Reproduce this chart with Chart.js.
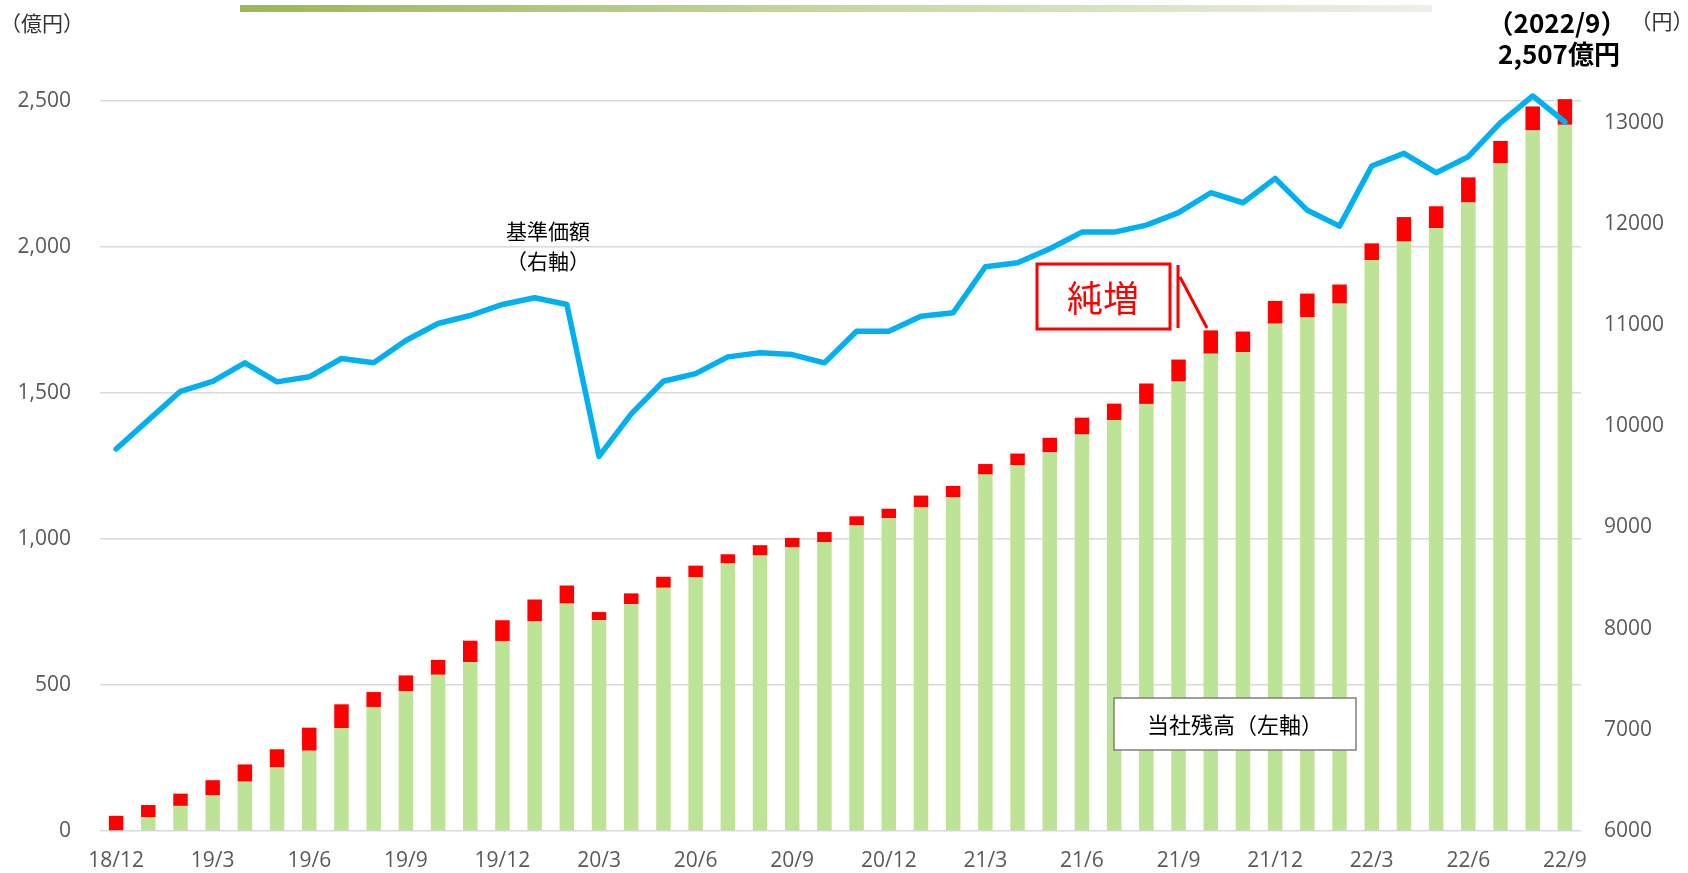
<!DOCTYPE html>
<html>
<head>
<meta charset="utf-8">
<script src="https://cdn.jsdelivr.net/npm/chart.js@4.4.0/dist/chart.umd.min.js"></script>
<style>
  html, body { margin: 0; padding: 0; background: #fff; }
  #wrap { width: 1688px; height: 873px; }
</style>
</head>
<body>
<div id="wrap"><canvas id="balanceChart" width="1688" height="873"></canvas></div>
<script>
// 月次 18/12 〜 22/9
const months = [
  '18/12',
  '19/1', '19/2', '19/3', '19/4', '19/5', '19/6', '19/7', '19/8', '19/9', '19/10', '19/11', '19/12',
  '20/1', '20/2', '20/3', '20/4', '20/5', '20/6', '20/7', '20/8', '20/9', '20/10', '20/11', '20/12',
  '21/1', '21/2', '21/3', '21/4', '21/5', '21/6', '21/7', '21/8', '21/9', '21/10', '21/11', '21/12',
  '22/1', '22/2', '22/3', '22/4', '22/5', '22/6', '22/7', '22/8', '22/9'
];

// 当社残高 (億円) : 緑 = 既存分, 赤 = 純増
const baseBalance = [
  0, 47, 86, 122, 169, 218, 275, 352, 425, 479, 535, 578, 651,
  719, 779, 722, 777, 833, 870, 918, 944, 973, 989, 1047, 1071,
  1110, 1144, 1221, 1253, 1297, 1358, 1408, 1463, 1540, 1635, 1640, 1738,
  1760, 1807, 1955, 2019, 2065, 2153, 2288, 2400, 2419
];
const netIncrease = [
  52, 42, 42, 52, 59, 62, 79, 82, 51, 54, 51, 74, 71,
  74, 62, 28, 37, 38, 39, 30, 35, 31, 35, 31, 33,
  39, 38, 36, 40, 50, 58, 56, 70, 75, 80, 71, 78,
  81, 65, 58, 84, 75, 86, 76, 82, 88
];

// 基準価額 (円, 右軸)
const navPrice = [
  9775, 10060, 10345, 10444, 10626, 10438, 10488, 10669, 10626, 10847, 11015, 11094, 11203,
  11269, 11203, 9702, 10122, 10444, 10520, 10685, 10725, 10708, 10626, 10939, 10939,
  11087, 11121, 11576, 11615, 11754, 11918, 11918, 11987, 12110, 12307, 12208, 12449,
  12133, 11977, 12571, 12696, 12505, 12663, 13000, 13263, 13006
];

const leftTicks = [0, 500, 1000, 1500, 2000, 2500];
const rightTicks = [6000, 7000, 8000, 9000, 10000, 11000, 12000, 13000];

const tickFont = { family: '"Open Sans", "Noto Sans", sans-serif', size: 21 };
const jpFont = '"Noto Sans CJK JP", "Noto Sans", sans-serif';

// 注記・装飾
const annotations = {
  id: 'annotations',
  afterDraw(chart) {
    const ctx = chart.ctx;
    ctx.save();

    // 上部のグラデーション帯
    const g = ctx.createLinearGradient(240, 0, 1432, 0);
    g.addColorStop(0, '#98b954');
    g.addColorStop(0.5, '#c4d89f');
    g.addColorStop(1, '#eeefe8');
    ctx.fillStyle = g;
    ctx.fillRect(240, 5, 1192, 7);

    ctx.textAlign = 'center';
    ctx.textBaseline = 'middle';

    ctx.fillStyle = '#333';
    ctx.font = '21px ' + jpFont;
    ctx.fillText('（億円）', 42, 23);
    ctx.fillText('（円）', 1662, 21);

    ctx.fillStyle = '#000';
    ctx.font = 'bold 26px ' + jpFont;
    ctx.fillText('（2022/9）', 1557, 23);
    ctx.fillText('2,507億円', 1559, 54);

    ctx.font = '21px ' + jpFont;
    ctx.fillText('基準価額', 548, 231);
    ctx.fillText('（右軸）', 548, 261);

    // 純増 callout
    ctx.fillStyle = '#fff';
    ctx.fillRect(1037, 264, 133, 65);
    ctx.strokeStyle = '#ff0000';
    ctx.lineWidth = 3;
    ctx.strokeRect(1037, 264, 133, 65);
    ctx.beginPath();
    ctx.moveTo(1178, 265);
    ctx.lineTo(1178, 328);
    ctx.moveTo(1180, 277);
    ctx.lineTo(1207, 328);
    ctx.stroke();
    ctx.fillStyle = '#ff0000';
    ctx.font = '36px ' + jpFont;
    ctx.fillText('純増', 1103, 298);

    // 当社残高 label
    ctx.fillStyle = '#fff';
    ctx.fillRect(1114, 698, 242, 52);
    ctx.strokeStyle = '#7f7f7f';
    ctx.lineWidth = 1.5;
    ctx.strokeRect(1114, 698, 242, 52);
    ctx.fillStyle = '#000';
    ctx.font = '22px ' + jpFont;
    ctx.fillText('当社残高（左軸）', 1235, 725);

    ctx.restore();
  }
};

new Chart(document.getElementById('balanceChart').getContext('2d'), {
  type: 'bar',
  plugins: [annotations],
  data: {
    labels: months,
    datasets: [
      {
        type: 'line',
        label: '基準価額',
        data: navPrice,
        yAxisID: 'y1',
        borderColor: '#00b0f0',
        borderWidth: 5.5,
        pointRadius: 0,
        tension: 0,
        borderJoinStyle: 'round',
        borderCapStyle: 'round',
        order: 0
      },
      {
        label: '当社残高',
        data: baseBalance,
        backgroundColor: '#bde397',
        stack: 'bal',
        yAxisID: 'y',
        categoryPercentage: 1,
        barPercentage: 0.45,
        order: 1
      },
      {
        label: '純増',
        data: netIncrease,
        backgroundColor: '#ff0000',
        stack: 'bal',
        yAxisID: 'y',
        categoryPercentage: 1,
        barPercentage: 0.45,
        order: 1
      }
    ]
  },
  options: {
    responsive: false,
    animation: false,
    layout: { padding: { top: 72, left: 0, right: 0, bottom: 0 } },
    plugins: { legend: { display: false }, tooltip: { enabled: false } },
    scales: {
      x: {
        stacked: true,
        grid: { display: false, drawTicks: false },
        border: { display: false },
        ticks: {
          autoSkip: false,
          maxRotation: 0,
          padding: 17,
          color: '#595959',
          font: tickFont,
          callback: (v, i) => (i % 3 === 0 ? months[i] : null)
        },
        afterFit: (s) => { s.height = 42; }
      },
      y: {
        position: 'left',
        stacked: true,
        min: 0,
        max: 2600,
        afterBuildTicks: (s) => { s.ticks = leftTicks.map(v => ({ value: v })); },
        grid: { color: '#d9d9d9', lineWidth: 1.5, drawTicks: false },
        border: { display: false },
        ticks: {
          padding: 29,
          color: '#595959',
          font: tickFont,
          callback: (v) => v.toLocaleString('en-US')
        },
        afterFit: (s) => { s.width = 100; }
      },
      y1: {
        position: 'right',
        min: 6000,
        max: 13500,
        afterBuildTicks: (s) => { s.ticks = rightTicks.map(v => ({ value: v })); },
        grid: { display: false, drawTicks: false },
        border: { display: false },
        ticks: {
          padding: 23,
          color: '#595959',
          font: tickFont,
          callback: (v) => String(v)
        },
        afterFit: (s) => { s.width = 107; }
      }
    }
  }
});
</script>
</body>
</html>
